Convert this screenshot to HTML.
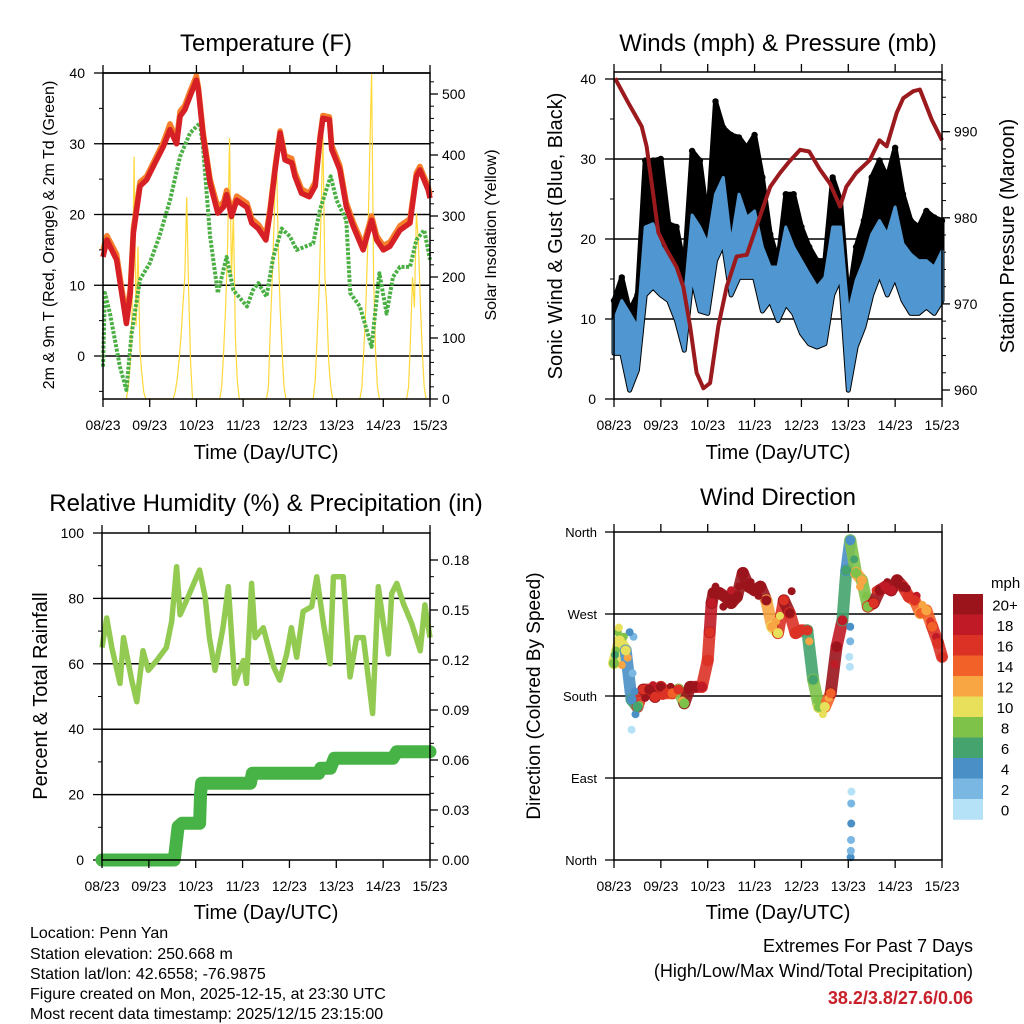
<!DOCTYPE html>
<html><head><meta charset="utf-8"><style>
body{margin:0;background:#fff}
svg{display:block;font-family:"Liberation Sans",Arial,sans-serif}
</style></head><body>
<svg id="fig" width="1024" height="1024" viewBox="0 0 1024 1024" xmlns="http://www.w3.org/2000/svg">
<rect width="1024" height="1024" fill="#fff"/>
<g id="p1"></g>
<g id="p2"></g>
<g id="p3"></g>
<g id="p4"></g>
<g id="cbar"></g>
<text x="266" y="51" font-size="24" text-anchor="middle">Temperature (F)</text>
<text x="778" y="51" font-size="24" text-anchor="middle">Winds (mph) &amp; Pressure (mb)</text>
<text x="266" y="511" font-size="24" text-anchor="middle">Relative Humidity (%) &amp; Precipitation (in)</text>
<text x="778" y="505" font-size="24" text-anchor="middle">Wind Direction</text>
<text transform="translate(54,235) rotate(-90)" font-size="16" text-anchor="middle">2m &amp; 9m T (Red, Orange) &amp; 2m Td (Green)</text>
<text transform="translate(496,235) rotate(-90)" font-size="16" text-anchor="middle">Solar Insolation (Yellow)</text>
<text transform="translate(562,236) rotate(-90)" font-size="20" text-anchor="middle">Sonic Wind &amp; Gust (Blue, Black)</text>
<text transform="translate(1014,236) rotate(-90)" font-size="20" text-anchor="middle">Station Pressure (Maroon)</text>
<text transform="translate(47,696) rotate(-90)" font-size="20" text-anchor="middle">Percent &amp; Total Rainfall</text>
<text transform="translate(540,696) rotate(-90)" font-size="19" text-anchor="middle">Direction (Colored By Speed)</text>
<text x="266" y="459" font-size="20" text-anchor="middle">Time (Day/UTC)</text>
<text x="778" y="459" font-size="20" text-anchor="middle">Time (Day/UTC)</text>
<text x="266" y="919" font-size="20" text-anchor="middle">Time (Day/UTC)</text>
<text x="778" y="919" font-size="20" text-anchor="middle">Time (Day/UTC)</text>
<g font-size="16">
<text x="30" y="938">Location: Penn Yan</text>
<text x="30" y="959">Station elevation: 250.668 m</text>
<text x="30" y="979">Station lat/lon: 42.6558; -76.9875</text>
<text x="30" y="999">Figure created on Mon, 2025-12-15, at 23:30 UTC</text>
<text x="30" y="1019">Most recent data timestamp: 2025/12/15 23:15:00</text>
</g>
<g font-size="18" text-anchor="end">
<text x="973" y="952">Extremes For Past 7 Days</text>
<text x="973" y="977">(High/Low/Max Wind/Total Precipitation)</text>
<text x="973" y="1004" fill="#c8202a" font-weight="bold">38.2/3.8/27.6/0.06</text>
</g>
</svg>
<script>
// ---- data ----
const dayLabels=["08/23","09/23","10/23","11/23","12/23","13/23","14/23","15/23"];
const tempHours=[0,2,7,9.6,12,14,15.6,19,22.4,26.7,31,34.4,37.8,39.6,42,44.7,48,49,51.5,55,59,62,63.5,66,68.7,74,76.4,79.8,83.7,85.8,88.4,91,93.5,97,98.6,102,106,109,111.5,113,116.3,117.5,121.7,125,128.6,133.7,138,140.6,144,147.4,152.6,157.7,161,162.8,167,168];
const temp2m=[14,16.4,13.6,8.9,4.6,8.9,17.4,24,24.9,27.3,29.6,32,30,33.9,34.8,36.7,39,37.6,31,24.4,20.2,21.1,22.8,19.7,22,21,18.8,18,16.4,20.2,26.3,31.5,27.7,27.3,25.4,23,22.5,24,30.6,33.6,33.4,29.2,26.3,21.1,18.3,15,19.2,16.4,15,15.5,17.8,18.8,25.4,26.3,23.5,22.3];
const temp9m=[15,17,14.4,9.6,5.5,9.6,18,24.6,25.4,27.8,30.2,32.8,30.6,34.6,35.4,37.4,39.6,38,31.6,25,21,21.8,23.4,20.4,22.6,21.6,19.4,18.6,17,20.8,26.8,31.8,28.3,27.9,26,23.6,23,24.6,31,34,33.8,29.8,26.9,21.7,18.9,15.6,19.8,17,15.6,16.1,18.4,19.4,25.9,26.8,24,22.8];
const dewHours=[0,1,3.6,8.7,12,14.7,19,24,29,34.4,39.6,44.7,49.8,51.5,55,59,63.5,67,74,77,79.8,84,87.5,91.8,96,99.5,108,111.5,117,120,125,127,132,138,142,145.7,149,152.6,157.7,161,165,168];
const dewPoint=[-1.5,8.9,6,-1.5,-4.8,3.2,10.8,13.1,16.9,22,28.2,31.5,32.9,29.2,16.9,8.9,14,9.3,7,9.3,10.3,8.4,14,18,16.9,15,15.9,20.7,25.4,22,19.2,8.9,7,1.3,11.7,6,11.2,12.6,12.6,16.4,17.8,13.6];
const solarHours=[12,13,14,15,16,17,18,19,20,21,22,36,37,38,39,40,41,42,43,44,45,46,60,61,62,63,64,65,66,67,68,69,70,84,85,86,87,88,89,90,91,92,93,94,108,109,110,111,112,113,114,115,116,117,118,132,133,134,135,136,137,138,139,140,141,142,156,157,158,159,160,161,162,163,164,165,166];
const solarVals=[0,20,60,150,397,120,250,80,40,10,0, 0,10,30,60,100,150,200,331,180,60,0, 0,20,80,150,250,428,200,307,100,30,0, 0,20,120,200,300,425,250,150,80,20,0, 0,30,100,180,300,437,200,150,60,20,0, 0,20,80,150,250,400,535,200,80,20,0, 0,20,100,200,150,305,260,160,80,20,0];
const windHours=[0,4,8,12,16,20,24,28,32,36,40,44,48,52,56,60,64,68,72,76,80,84,88,92,96,100,104,108,112,116,120,124,128,132,136,140,144,148,152,156,160,164,168];
const windHi=[9.8,12.3,10.7,9,21.5,21.9,19,17.7,15.6,12.3,23,21.5,19.4,25.6,27.7,19.4,25.6,22.7,23.5,19,16.5,16.5,21.5,19,17.3,15.6,14,15.2,21.5,21.5,10.7,14.8,17.3,20.6,22.3,20.6,24,19.4,18.1,17.3,17.3,16.5,18.5];
const windLo=[5.7,5.7,1.1,3.6,13,14,13,12.3,9.8,6.1,15.2,11,10.7,17.3,19.4,13,15.2,15.2,15.2,11,12.3,9.8,11.9,10.7,8.2,6.9,6.5,6.9,13,15.2,1.1,6.5,9,13,15.6,13,15.2,12.3,10.7,10.7,11.5,10.7,12.3];
const gustHi=[12.3,15.2,11,13,29.8,29.8,30,21.9,21.5,16.5,31,29.8,22.3,37.2,33.9,33,32.7,31.4,33,27.7,20.6,17.3,25.6,25.6,21.5,19,17.3,17.3,27.7,24.8,12.3,19,22.3,27.7,29.8,27.7,31.4,25.6,22.3,21.5,23.5,22.7,22.3];
const presHours=[0.5,7.2,14.2,16.7,20,22.7,27,32,35.5,39,42.3,45.8,49.2,53.4,57.7,62.8,68,73,80,85,89.3,95.3,100,105.5,110.6,115.8,119,124,131,136,139.7,144.8,148.2,153.3,156.7,162.7,168];
const pressure=[996.2,993.4,990.6,988.3,982.9,978.3,976.3,974.3,972,967.4,962,960.2,960.8,967.4,972,975.5,975.7,979,983.6,985.2,986.4,987.9,987.7,985.6,984,981.3,983.6,985.2,986.7,989,988.3,992.2,993.9,994.7,994.9,991.4,989];
const rhHours=[0,2.4,5,9.2,11,15.2,17.8,21,23.7,28,33,35.7,38.2,40,43.4,50,52.8,55,57.9,62,64.7,68,72.4,74,76.6,78.4,82.6,88,91,94.6,97,99.7,103,107.4,110,113.4,116.8,118.5,123.6,127,130.4,133.9,138.6,141.5,144,146.7,148.4,151,154.3,158.6,163,165.4,168];
const rhVals=[65,74,65,54,68,55,48.4,64,58,61,65,73,89.7,75,79.5,88.7,80.5,68,58,71,83.6,54,61,54,84.6,68,71,59,55,63,71,62,76,77.5,86.6,72.4,60,86.6,86.6,56,68,68,44.8,83.6,73,63,81.5,84.6,78.5,72.4,64,78,68];
const precipHours=[0,37,38,39,41,50,50.5,51,76,77,111,112,117,119,149,151,168];
const precipVals=[0,0,0.010,0.020,0.022,0.022,0.040,0.046,0.046,0.052,0.052,0.055,0.055,0.061,0.061,0.065,0.065];
const dirHours=[0,3,6,9,12,15,18,21,24,27,30,33,36,39,42,45,48,49,50,51,54,57,60,63,66,69,72,75,78,81,84,87,90,93,96,99,102,105,108,111,114,117,119,121,124,127,130,133,136,139,142,145,148,151,154,157,160,163,166,168];
const dirVals=[216,241,230,176,168,187,187,179,190,183,183,187,172,190,190,190,219,250,282,293,293,289,282,289,315,300,296,300,285,256,249,285,271,249,252,252,198,168,168,183,234,263,318,351,315,307,278,282,296,300,296,307,300,289,285,271,274,256,238,223];
const dirSpeed=[9,10,11,4,7,16,21,17,21,17,14,17,9,21,21,18,16,17,18,21,21,21,21,21,21,21,21,21,21,13,11,16,21,17,17,16,7,9,11,15,21,18,7,4,9,13,9,16,21,18,18,21,21,17,16,14,13,15,17,17];
const extraHours=[9,9.5,10,120.5,120.8,121,121,121.2,121.3,121.4,121.5,121.5,121.6,1,2,4,8,0.5,2.5,5,7,10.5,11,13,16,20,25,29,35,38,52,56,60,64,70,74,83,85,91,100,104,107,110,113,123,126,129,134,140,146,150,155,158,162,165];
const extraDirs=[143,205,245,223,212,240,256,3,10,22,40,62,75,230,250,214,250,225,255,245,222,185,160,170,178,192,180,190,175,186,300,278,296,300,305,290,262,268,295,240,175,160,178,215,330,300,290,296,305,302,298,290,280,262,245];
const extraSpeed=[1,2,2,1,1,3,4,4,3,2,4,3,1,8,9,12,5,7,10,9,13,4,5,8,21,18,16,21,12,21,21,21,18,21,21,21,12,10,21,13,8,10,12,19,6,12,8,17,21,21,20,18,13,16,18];
const speedLabels=["0","2","4","6","8","10","12","14","16","18","20+"];
const speedColors=["#b5e2f7","#7ab8e3","#4a8fc6","#45a36e","#7ec24a","#e8e05a","#f8a543","#f26228","#dc3226","#c01a26","#9b141c"];

// ---- helpers ----
const NS="http://www.w3.org/2000/svg";
function mk(parent,tag,attrs){const e=document.createElementNS(NS,tag);for(const k in attrs)e.setAttribute(k,attrs[k]);parent.appendChild(e);return e;}
function lin(d0,d1,r0,r1){return v=>r0+(v-d0)/(d1-d0)*(r1-r0);}
function pathOf(xs,ys,sx,sy){return xs.map((h,i)=>(i?"L":"M")+sx(h).toFixed(1)+","+sy(ys[i]).toFixed(1)).join("");}
function colorFor(s){let i=Math.floor(s/2);if(i<0)i=0;if(i>10)i=10;return speedColors[i];}

function frame(g,L,R,T,B,sx){
  dayLabels.forEach((lab,i)=>{
    const x=sx(i*24);
    const t=mk(g,'line',{x1:x,x2:x,y1:B,y2:B+8,stroke:'#000','stroke-width':1.3});
    
    
    mk(g,'line',{x1:x,x2:x,y1:T,y2:T-8,stroke:'#000','stroke-width':1.3});
    const tx=mk(g,'text',{x:x,y:B+31,'font-size':14,'text-anchor':'middle'});
    tx.textContent=lab;
    
    
  });
  const r=mk(g,'rect',{x:L,y:T,width:R-L,height:B-T,fill:'none',stroke:'#000','stroke-width':1.5});
  
  
}
function yAxisLeft(g,L,R,vals,labels,sy,grid,minor){
  if(minor)minor.forEach(v=>mk(g,'line',{x1:L-4,x2:L,y1:sy(v),y2:sy(v),stroke:'#000','stroke-width':1}));
  vals.forEach((v,i)=>{
    const y=sy(v);
    mk(g,'line',{x1:L-9,x2:L,y1:y,y2:y,stroke:'#000','stroke-width':1.3});
    if(grid[i]){const gl=mk(g,'line',{x1:L,x2:R,y1:y,y2:y,stroke:'#000','stroke-width':1.5});
      
      }
    const t=mk(g,'text',{x:L-18,y:y+5,'font-size':14,'text-anchor':'end'});t.textContent=labels[i];
    
    
  });
}
function yAxisRight(g,R,vals,labels,sy,minor,fs){
  if(minor)minor.forEach(v=>mk(g,'line',{x1:R,x2:R+4,y1:sy(v),y2:sy(v),stroke:'#000','stroke-width':1}));
  vals.forEach((v,i)=>{
    const y=sy(v);
    mk(g,'line',{x1:R,x2:R+8,y1:y,y2:y,stroke:'#000','stroke-width':1.3});
    const t=mk(g,'text',{x:R+12,y:y+5,'font-size':fs||14});t.textContent=labels[i];
    
    
  });
}

// ---- panel 1: temperature ----
(function(){
  const g=document.getElementById('p1');
  const L=103,R=430,T=73,B=399;
  const sx=lin(0,168,L,R), sy=lin(0,40,356,73), sy2=lin(0,500,399,94);
  yAxisLeft(g,L,R,[0,10,20,30,40],["0","10","20","30","40"],sy,[1,1,1,1,1],[-5,5,15,25,35]);
  yAxisRight(g,R,[0,100,200,300,400,500],["0","100","200","300","400","500"],sy2,[20,40,60,80,120,140,160,180,220,240,260,280,320,340,360,380,420,440,460,480,520]);
  const s=mk(g,'path',{d:pathOf(solarHours,solarVals,sx,sy2),fill:'none',stroke:'#ffd83a','stroke-width':1.2});
  
  
  const d=mk(g,'path',{d:pathOf(dewHours,dewPoint,sx,sy),fill:'none',stroke:'#4bb043','stroke-width':4,'stroke-dasharray':'3 1.5','stroke-linejoin':'round'});
  
  
  const o=mk(g,'path',{d:pathOf(tempHours,temp9m,sx,sy),fill:'none',stroke:'#f57f2a','stroke-width':5.5,'stroke-linejoin':'round'});
  
  
  const r=mk(g,'path',{d:pathOf(tempHours,temp2m,sx,sy),fill:'none',stroke:'#d62026','stroke-width':5.5,'stroke-linejoin':'round'});
  
  
  frame(g,L,R,T,B,sx);
})();

// ---- panel 2: winds ----
(function(){
  const g=document.getElementById('p2');
  const L=614,R=942,T=72,B=399;
  const sx=lin(0,168,L,R), sy=lin(0,40,399,79), sy2=lin(960,990,390,131.7);
  yAxisLeft(g,L,R,[0,10,20,30,40],["0","10","20","30","40"],sy,[0,1,1,1,1],[5,15,25,35]);
  yAxisRight(g,R,[960,970,980,990],["960","970","980","990"],sy2,[962,964,966,968,972,974,976,978,982,984,986,988,992,994,996],14);
  let top=pathOf(windHours,gustHi,sx,sy);
  let bot=windHours.slice().reverse().map((h,i)=>"L"+sx(h).toFixed(1)+","+sy(windLo[windHours.length-1-i]).toFixed(1)).join("");
  const gb=mk(g,'path',{d:top+bot+"Z",fill:'#000',stroke:'#000','stroke-width':5,'stroke-linejoin':'round'});
  
  
  windHours.forEach((h,i)=>{
    const c=mk(g,'circle',{cx:sx(h),cy:sy(gustHi[i]),r:3.2,fill:'#000'});
    
    
  });
  top=pathOf(windHours,windHi,sx,sy);
  const wb=mk(g,'path',{d:top+bot+"Z",fill:'#5097d1',stroke:'#5097d1','stroke-width':3,'stroke-linejoin':'round'});
  
  
  const p=mk(g,'path',{d:pathOf(presHours,pressure,sx,sy2),fill:'none',stroke:'#9b1a1e','stroke-width':4,'stroke-linejoin':'round'});
  
  
  frame(g,L,R,T,B,sx);
})();

// ---- panel 3: RH & precip ----
(function(){
  const g=document.getElementById('p3');
  const L=102,R=430,T=533,B=860;
  const sx=lin(0,168,L,R), sy=lin(0,100,860,533), sy2=lin(0,0.18,860,560);
  yAxisLeft(g,L,R,[0,20,40,60,80,100],["0","20","40","60","80","100"],sy,[0,1,1,1,1,0],[10,30,50,70,90]);
  yAxisRight(g,R,[0,0.03,0.06,0.09,0.12,0.15,0.18],["0.00","0.03","0.06","0.09","0.12","0.15","0.18"],sy2,[0.01,0.02,0.04,0.05,0.07,0.08,0.1,0.11,0.13,0.14,0.16,0.17]);
  const rh=mk(g,'path',{d:pathOf(rhHours,rhVals,sx,sy),fill:'none',stroke:'#93cb52','stroke-width':5.5,'stroke-linejoin':'round'});
  
  
  const pr=mk(g,'path',{d:pathOf(precipHours,precipVals,sx,sy2),fill:'none',stroke:'#47b347','stroke-width':13,'stroke-linejoin':'round','stroke-linecap':'round'});
  
  
  frame(g,L,R,T,B,sx);
})();

// ---- panel 4: wind direction ----
(function(){
  const g=document.getElementById('p4');
  const L=614,R=942,T=532,B=860;
  const sx=lin(0,168,L,R), sy=lin(0,360,860,532);
  yAxisLeft(g,L,R,[0,90,180,270,360],["North","East","South","West","North"],sy,[0,1,1,1,0],null);
  g.querySelectorAll('text').forEach(t=>{t.setAttribute('font-size','13');t.setAttribute('x',597);});
  for(let i=1;i<dirHours.length;i++){
    if(Math.abs(dirVals[i]-dirVals[i-1])>60)continue;
    const s=mk(g,'line',{x1:sx(dirHours[i-1]),y1:sy(dirVals[i-1]),x2:sx(dirHours[i]),y2:sy(dirVals[i]),stroke:colorFor(dirSpeed[i]),'stroke-width':12,'stroke-linecap':'round','stroke-opacity':0.9});
    
    
  }
  extraHours.forEach((h,i)=>{
    const c=mk(g,'circle',{cx:sx(h),cy:sy(extraDirs[i]),r:4,fill:colorFor(extraSpeed[i])});
    
    
  });
  dirHours.forEach((h,i)=>{
    const c=mk(g,'circle',{cx:sx(h),cy:sy(dirVals[i]),r:5,fill:colorFor(dirSpeed[i])});
    
    
  });
  frame(g,L,R,T,B,sx);
})();

// ---- colorbar ----
(function(){
  const g=document.getElementById('cbar');
  const x0=953,w=30,top=594,h=20.5;
  const u=mk(g,'text',{x:991,y:588,'font-size':15});u.textContent='mph';
  
  
  speedLabels.forEach((lab,i)=>{
    const k=10-i, y=top+i*h;
    const r=mk(g,'rect',{x:x0,y:y,width:w,height:h+0.3,fill:speedColors[k]});
    
    
    const t=mk(g,'text',{x:1005,y:y+h/2+6,'font-size':15,'text-anchor':'middle'});t.textContent=speedLabels[k];
    
    
  });
})();
</script>
</body></html>
